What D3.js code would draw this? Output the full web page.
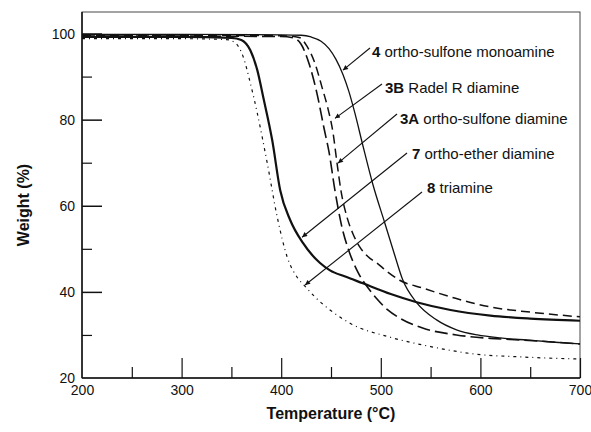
<!DOCTYPE html>
<html>
<head>
<meta charset="utf-8">
<script src="https://cdn.jsdelivr.net/npm/d3@7/dist/d3.min.js"></script>
<style>
  html, body { margin: 0; padding: 0; background: #fff; }
  svg { display: block; }
  text { font-family: "Liberation Sans", Arial, Helvetica, sans-serif; fill: #111; }
</style>
</head>
<body>
<svg id="chart" width="591" height="432"></svg>
<script>
// ---- data ----
const xTicks = [200, 300, 400, 500, 600, 700];
const yTicks = [20, 40, 60, 80, 100];

const tMono = [200, 300, 400, 420, 430, 440, 448, 455, 462, 468, 474, 482, 492, 504, 514, 522, 536, 556, 576, 597, 620, 647, 675, 700];
const wMono = [99.8, 99.8, 99.7, 99.6, 99.2, 98.2, 96.5, 94.0, 90.5, 86.5, 81.5, 74.0, 65.0, 56.0, 48.5, 42.8, 37.5, 33.5, 31.2, 30.0, 29.3, 28.8, 28.3, 27.9];

const tRadel = [200, 300, 400, 418, 426, 434, 441, 447, 452, 456, 460, 466, 472, 479, 487, 496, 507, 519, 542, 575, 610, 650, 700];
const wRadel = [99.6, 99.6, 99.5, 99.1, 97.0, 93.0, 87.5, 82.5, 77.0, 70.0, 63.5, 57.4, 53.5, 50.4, 48.2, 46.7, 44.6, 42.7, 40.9, 38.5, 36.5, 35.3, 34.2];

const tSulf = [200, 300, 400, 412, 420, 428, 436, 443, 448, 454, 461, 468, 477, 489, 496, 507, 519, 542, 576, 610, 643, 700];
const wSulf = [99.4, 99.4, 99.3, 99.0, 97.5, 93.0, 86.0, 78.0, 72.5, 63.5, 55.0, 49.5, 44.6, 40.4, 38.4, 35.8, 33.9, 31.6, 30.0, 29.2, 28.8, 27.9];

const tEther = [200, 300, 350, 360, 369, 376, 382, 391, 399, 409, 422, 439, 449, 465, 482, 510, 536, 570, 610, 650, 700];
const wEther = [99.2, 99.2, 99.0, 98.5, 96.1, 91.5, 85.2, 75.2, 63.6, 56.7, 51.3, 46.7, 45.0, 43.5, 42.0, 39.5, 37.6, 35.8, 34.5, 33.8, 33.3];

const tTri = [200, 300, 345, 354, 362, 369, 376, 386, 396, 406, 416, 424, 434, 449, 470, 509, 550, 593, 640, 700];
const wTri = [98.8, 98.8, 98.6, 97.8, 94.5, 88.5, 81.5, 69.9, 57.4, 48.1, 43.4, 41.3, 38.8, 35.8, 32.6, 29.5, 27.3, 25.6, 24.9, 24.4];

const labelNums = ["4", "3B", "3A", "7", "8"];
const labelNames = [" ortho-sulfone monoamine", " Radel R diamine", " ortho-sulfone diamine", " ortho-ether diamine", " triamine"];
// arrow tip targets in data units [temperature, weight]
const tipT = [462, 454, 457, 421, 424];
const tipW = [91.5, 80.3, 69.9, 52.7, 41.6];

// ---- layout ----
const W = 591, H = 432;
const margin = { left: 82, top: 12, right: 11, bottom: 54 };
const iw = W - margin.left - margin.right;
const ih = H - margin.top - margin.bottom;

const svg = d3.select("#chart");
const g = svg.append("g").attr("transform", `translate(${margin.left},${margin.top})`);

const x = d3.scaleLinear().domain([200, 700]).range([0, iw]);
const y = d3.scaleLinear().domain([20, 105]).range([ih, 0]);

// markers
svg.append("defs").append("marker")
  .attr("id", "ah").attr("viewBox", "0 0 10 10")
  .attr("refX", 10).attr("refY", 5)
  .attr("markerWidth", 7).attr("markerHeight", 5)
  .attr("markerUnits", "userSpaceOnUse")
  .attr("orient", "auto")
  .append("path").attr("d", "M0,0 L10,5 L0,10 Z").attr("fill", "#111");

// frame
g.append("rect").attr("x", 0).attr("y", 0).attr("width", iw).attr("height", ih)
  .attr("fill", "none").attr("stroke", "#333").attr("stroke-width", 0.9);
g.append("line").attr("x1", 0).attr("x2", 0).attr("y1", 0).attr("y2", ih).attr("stroke", "#111").attr("stroke-width", 1.5);
g.append("line").attr("x1", 0).attr("x2", iw).attr("y1", ih).attr("y2", ih).attr("stroke", "#111").attr("stroke-width", 1.5);

// axes (ticks drawn inward)
const xAxis = d3.axisBottom(x).tickValues(xTicks).tickSize(-20).tickPadding(7).tickFormat(d3.format("d"));
const gx = g.append("g").attr("transform", `translate(0,${ih})`).call(xAxis);
gx.select(".domain").remove();
gx.selectAll(".tick line").attr("stroke", "#111").attr("stroke-width", 1.2)
  .filter(d => d === 200).remove();
gx.selectAll(".tick text").attr("font-size", 14).attr("fill", "#111")
  .attr("font-family", "'Liberation Sans', Arial, sans-serif");

const xMinor = d3.axisBottom(x).tickValues([250, 350, 450, 550, 650]).tickSize(-11).tickFormat("");
const gxm = g.append("g").attr("transform", `translate(0,${ih})`).call(xMinor);
gxm.select(".domain").remove();
gxm.selectAll(".tick line").attr("stroke", "#111").attr("stroke-width", 1.2);

const yAxis = d3.axisLeft(y).tickValues(yTicks).tickSize(-20).tickPadding(7).tickFormat(d3.format("d"));
const gy = g.append("g").call(yAxis);
gy.select(".domain").remove();
gy.selectAll(".tick line").attr("stroke", "#111").attr("stroke-width", 1.5)
  .filter(d => d === 20).remove();
gy.selectAll(".tick text").attr("font-size", 14).attr("fill", "#111")
  .attr("font-family", "'Liberation Sans', Arial, sans-serif");

const yMinor = d3.axisLeft(y).tickValues([30, 50, 70, 90]).tickSize(-10).tickFormat("");
const gym = g.append("g").call(yMinor);
gym.select(".domain").remove();
gym.selectAll(".tick line").attr("stroke", "#111").attr("stroke-width", 1.2);

// curves
const line = d3.line().x(d => x(d[0])).y(d => y(d[1])).curve(d3.curveMonotoneX);
const series = [
  { t: tMono, w: wMono, sw: 1.3, dash: null },
  { t: tRadel, w: wRadel, sw: 1.5, dash: "9,5" },
  { t: tSulf, w: wSulf, sw: 1.6, dash: "13,5" },
  { t: tEther, w: wEther, sw: 2.2, dash: null },
  { t: tTri, w: wTri, sw: 1.2, dash: "3,4,1,4" }
];
series.forEach(s => {
  g.append("path")
    .datum(s.t.map((t, i) => [t, s.w[i]]))
    .attr("d", line)
    .attr("fill", "none")
    .attr("stroke", "#111")
    .attr("stroke-width", s.sw)
    .attr("stroke-dasharray", s.dash)
    .attr("stroke-linejoin", "round");
});

// annotations
const labelPos = [[372, 57], [385, 93], [400, 124], [412, 159], [427, 193]];
const arrowStart = [[370, 48], [382, 84], [397, 114], [407, 153], [422, 192]];
labelNums.forEach((n, i) => {
  const t = svg.append("text").attr("x", labelPos[i][0]).attr("y", labelPos[i][1]).attr("font-size", 15);
  t.append("tspan").attr("font-weight", "bold").text(n);
  t.append("tspan").text(labelNames[i]);
  svg.append("line")
    .attr("x1", arrowStart[i][0]).attr("y1", arrowStart[i][1])
    .attr("x2", margin.left + x(tipT[i])).attr("y2", margin.top + y(tipW[i]))
    .attr("stroke", "#111").attr("stroke-width", 1.1)
    .attr("marker-end", "url(#ah)");
});

// axis titles
svg.append("text").attr("x", margin.left + iw / 2).attr("y", 419)
  .attr("text-anchor", "middle").attr("font-size", 16).attr("font-weight", "bold")
  .text("Temperature (°C)");
svg.append("text").attr("transform", "translate(29,205) rotate(-90)")
  .attr("text-anchor", "middle").attr("font-size", 16).attr("font-weight", "bold")
  .text("Weight (%)");
</script>
</body>
</html>
